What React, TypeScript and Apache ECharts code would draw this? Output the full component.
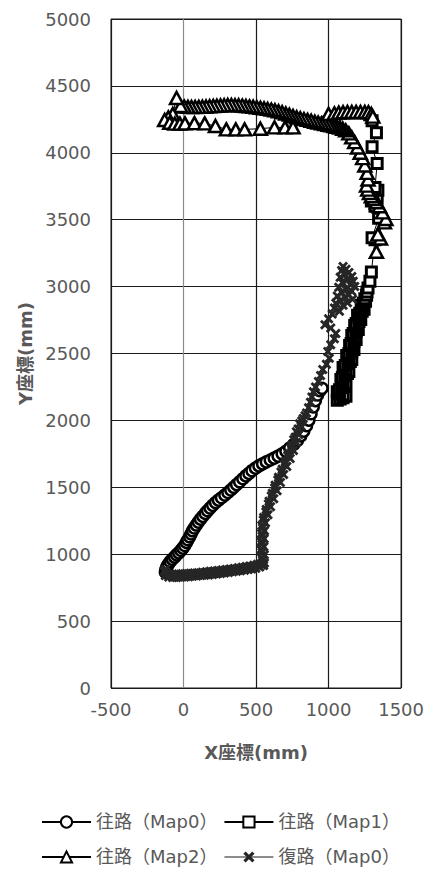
import React, { useEffect, useRef } from "react";
import * as echarts from "echarts";

const seriesNames = ["往路（Map0）", "往路（Map1）", "往路（Map2）", "復路（Map0）"];
const xAxisTitle = "X座標(mm)";
const yAxisTitle = "Y座標(mm)";

const outboundMap0: [number, number][] = [
  [-125, 865], [-122, 885], [-115, 905], [-105, 925], [-92, 945], [-78, 962], [-62, 978], [-48, 995],
  [-33, 1010], [-18, 1028], [-5, 1045], [8, 1065], [20, 1088], [30, 1108], [42, 1130], [52, 1152],
  [62, 1175], [74, 1196], [88, 1218], [102, 1240], [117, 1262], [133, 1283], [150, 1305], [166, 1325],
  [183, 1345], [201, 1365], [221, 1386], [241, 1404], [262, 1422], [285, 1442], [306, 1461], [326, 1480],
  [346, 1500], [366, 1520], [387, 1541], [409, 1564], [430, 1585], [451, 1604], [472, 1624], [496, 1643],
  [520, 1660], [545, 1675], [571, 1690], [598, 1704], [625, 1718], [652, 1733], [680, 1750], [706, 1769],
  [732, 1793], [759, 1820], [785, 1850], [808, 1884], [829, 1920], [848, 1960], [864, 2002], [879, 2050],
  [894, 2100], [909, 2148], [924, 2190], [940, 2222], [955, 2240],
];

const outboundMap1: [number, number][] = [
  [1060, 2150], [1080, 2160], [1100, 2170], [1120, 2180], [1100, 2190], [1075, 2200], [1060, 2215],
  [1075, 2230], [1095, 2245], [1110, 2260], [1120, 2275], [1100, 2290], [1085, 2305], [1095, 2320],
  [1115, 2335], [1130, 2350], [1140, 2365], [1120, 2380], [1100, 2395], [1115, 2410], [1135, 2425],
  [1150, 2440], [1160, 2455], [1140, 2470], [1125, 2485], [1140, 2500], [1160, 2515], [1175, 2530],
  [1165, 2545], [1145, 2560], [1155, 2575], [1175, 2590], [1190, 2605], [1180, 2620], [1160, 2635],
  [1170, 2650], [1190, 2665], [1205, 2680], [1195, 2695], [1180, 2710], [1190, 2725], [1210, 2740],
  [1222, 2755], [1210, 2770], [1200, 2785], [1215, 2800], [1232, 2815], [1245, 2830], [1235, 2845],
  [1225, 2860], [1240, 2875], [1255, 2890], [1250, 2910], [1262, 2935], [1265, 2960], [1272, 2990],
  [1285, 3040], [1295, 3110], [1320, 3350], [1300, 3365], [1345, 3510], [1320, 3600], [1295, 3640],
  [1335, 3660], [1305, 3690], [1340, 3720], [1320, 3740], [1335, 3920], [1300, 4045], [1330, 4150],
  [1300, 4240],
];

const outboundMap2: [number, number][] = [
  [1330, 3260], [1358, 3360], [1340, 3390], [1385, 3480], [1395, 3505], [1372, 3555], [1350, 3600],
  [1330, 3630], [1312, 3655], [1295, 3675], [1282, 3700], [1270, 3725], [1262, 3755], [1272, 3800],
  [1266, 3850], [1250, 3905], [1235, 3960], [1218, 4000], [1200, 4040], [1180, 4080], [1160, 4115],
  [1140, 4145], [1118, 4168], [1098, 4180], [1078, 4188], [1058, 4195], [1038, 4200], [1018, 4205],
  [998, 4210], [975, 4215], [952, 4220], [928, 4226], [905, 4232], [880, 4240], [855, 4246], [830, 4252],
  [805, 4258], [780, 4266], [755, 4275], [730, 4285], [705, 4294], [680, 4303], [655, 4311], [630, 4318],
  [605, 4323], [580, 4328], [555, 4332], [530, 4336], [505, 4340], [480, 4344], [455, 4347], [430, 4350],
  [405, 4353], [380, 4355], [355, 4356], [330, 4357], [305, 4357], [280, 4356], [255, 4354], [230, 4352],
  [205, 4350], [180, 4348], [155, 4346], [130, 4344], [105, 4343], [80, 4342], [55, 4342], [30, 4343],
  [5, 4345], [-20, 4350], [-48, 4410], [-74, 4290], [-105, 4265], [-130, 4245], [-95, 4225], [-60, 4218],
  [-25, 4218], [10, 4220], [75, 4222], [146, 4220], [220, 4200], [295, 4175], [360, 4175], [421, 4175],
  [530, 4180], [627, 4190], [700, 4190], [755, 4190], [1000, 4290], [1040, 4295], [1070, 4300],
  [1100, 4303], [1130, 4305], [1160, 4305], [1190, 4305], [1220, 4305], [1250, 4305], [1275, 4303],
  [1295, 4290], [1305, 4270],
];

const returnMap0: [number, number][] = [
  [1100, 3150], [1120, 3130], [1090, 3120], [1140, 3105], [1110, 3090], [1160, 3075], [1080, 3070],
  [1130, 3055], [1170, 3040], [1095, 3030], [1150, 3015], [1180, 3000], [1070, 2995], [1120, 2980],
  [1160, 2965], [1090, 2955], [1140, 2940], [1060, 2930], [1115, 2920], [1165, 2905], [1080, 2895],
  [1130, 2880], [1050, 2875], [1100, 2860], [1040, 2840], [1075, 2815], [1025, 2795], [1000, 2760],
  [975, 2715], [1015, 2690], [1050, 2650], [1040, 2610], [1015, 2565], [995, 2515], [1005, 2465],
  [985, 2420], [960, 2380], [945, 2335], [930, 2290], [910, 2250], [895, 2215], [885, 2175], [875, 2135],
  [862, 2095], [848, 2055], [838, 2035], [825, 2015], [815, 1995], [800, 1975], [812, 1955], [790, 1935],
  [778, 1915], [795, 1895], [770, 1875], [760, 1855], [778, 1835], [748, 1815], [740, 1795], [758, 1775],
  [725, 1755], [718, 1735], [735, 1715], [702, 1695], [695, 1675], [712, 1655], [680, 1635], [672, 1615],
  [690, 1595], [655, 1575], [650, 1555], [668, 1535], [632, 1515], [628, 1495], [645, 1475], [612, 1455],
  [605, 1435], [622, 1415], [590, 1395], [585, 1375], [600, 1355], [570, 1335], [568, 1315], [582, 1295],
  [552, 1275], [550, 1255], [565, 1235], [540, 1215], [545, 1195], [558, 1175], [538, 1155], [542, 1135],
  [556, 1115], [536, 1095], [540, 1075], [554, 1055], [535, 1035], [542, 1015], [557, 995], [538, 975],
  [545, 955], [558, 935], [540, 920], [552, 915], [540, 930], [525, 905], [510, 925], [498, 895],
  [485, 918], [470, 890], [458, 912], [445, 885], [432, 908], [420, 880], [405, 903], [392, 876],
  [378, 898], [365, 872], [350, 894], [338, 868], [322, 890], [310, 864], [295, 886], [282, 860],
  [268, 882], [255, 856], [240, 878], [228, 852], [212, 875], [200, 848], [185, 872], [172, 845],
  [158, 868], [145, 842], [130, 865], [118, 840], [102, 862], [90, 837], [75, 860], [62, 835], [48, 858],
  [35, 832], [20, 856], [8, 830], [-8, 854], [-20, 828], [-35, 852], [-48, 826], [-62, 850], [-75, 826],
  [-90, 850], [-102, 830], [-115, 856], [-125, 840], [-132, 870], [-126, 885],
];

const FONT = "'DejaVu Sans', 'Noto Sans CJK JP', sans-serif";
const GRAY_TEXT = "#595959";
const CROSS = "path://M0,2L2,0L5,3L8,0L10,2L7,5L10,8L8,10L5,7L2,10L0,8L3,5Z";

export default function App() {
  const ref = useRef<HTMLDivElement>(null);
  useEffect(() => {
    document.body.style.margin = "0";
    const chart = echarts.init(ref.current!, null, { renderer: "svg" });
    const openMarker = (w: number) => ({
      color: "#ffffff",
      borderColor: "#000000",
      borderWidth: w,
    });
    const legendText = { fontSize: 18, color: GRAY_TEXT, fontFamily: FONT };
    const plainNumber = (v: number) => String(v);
    chart.setOption({
      animation: false,
      backgroundColor: "#ffffff",
      grid: {
        left: 111,
        right: 25,
        top: 19,
        bottom: 189,
        show: true,
        borderColor: "#1a1a1a",
        borderWidth: 1,
      },
      xAxis: {
        type: "value",
        min: -500,
        max: 1500,
        interval: 500,
        name: xAxisTitle,
        nameLocation: "middle",
        nameGap: 55,
        nameTextStyle: { fontSize: 18, fontWeight: "bold", color: GRAY_TEXT, fontFamily: FONT },
        axisLine: { show: false },
        axisTick: { show: false },
        axisLabel: { fontSize: 18, color: GRAY_TEXT, fontFamily: FONT, margin: 12, formatter: plainNumber },
        splitLine: {
          show: true,
          lineStyle: { color: ["#1a1a1a", "#8c8c8c", "#1a1a1a", "#1a1a1a", "#1a1a1a"], width: 1.2 },
        },
      },
      yAxis: {
        type: "value",
        min: 0,
        max: 5000,
        interval: 500,
        name: yAxisTitle,
        nameLocation: "middle",
        nameGap: 73,
        nameTextStyle: { fontSize: 18, fontWeight: "bold", color: GRAY_TEXT, fontFamily: FONT },
        axisLine: { show: false },
        axisTick: { show: false },
        axisLabel: { fontSize: 18, color: GRAY_TEXT, fontFamily: FONT, margin: 20, formatter: plainNumber },
        splitLine: { show: true, lineStyle: { color: "#1a1a1a", width: 1.2 } },
      },
      legend: [
        {
          data: [
            { name: seriesNames[0], lineStyle: { width: 2 } },
            { name: seriesNames[1], lineStyle: { width: 2 } },
          ],
          left: 36,
          top: 808,
          itemWidth: 49,
          itemHeight: 14,
          itemGap: 6,
          textStyle: legendText,
        },
        {
          data: [
            { name: seriesNames[2], lineStyle: { width: 2 } },
            { name: seriesNames[3] },
          ],
          left: 36,
          top: 843,
          itemWidth: 49,
          itemHeight: 14,
          itemGap: 6,
          textStyle: legendText,
        },
      ],
      series: [
        {
          name: seriesNames[0],
          type: "line",
          data: outboundMap0,
          symbol: "circle",
          symbolSize: 11,
          itemStyle: openMarker(2.5),
          lineStyle: { color: "#000000", width: 1 },
        },
        {
          name: seriesNames[1],
          type: "line",
          data: outboundMap1,
          symbol: "rect",
          symbolSize: 10,
          itemStyle: openMarker(3),
          lineStyle: { color: "#000000", width: 1 },
        },
        {
          name: seriesNames[2],
          type: "line",
          data: outboundMap2,
          symbol: "triangle",
          symbolSize: [13, 12],
          itemStyle: openMarker(2.5),
          lineStyle: { color: "#000000", width: 1 },
        },
        {
          name: seriesNames[3],
          type: "line",
          data: returnMap0,
          symbol: CROSS,
          symbolSize: 10,
          itemStyle: { color: "#262626" },
          lineStyle: { color: "#8c8c8c", width: 1 },
        },
      ],
    });
    return () => chart.dispose();
  }, []);
  return (
    <div
      ref={ref}
      style={{ position: "fixed", left: 0, top: 0, width: 427, height: 877 }}
    />
  );
}
